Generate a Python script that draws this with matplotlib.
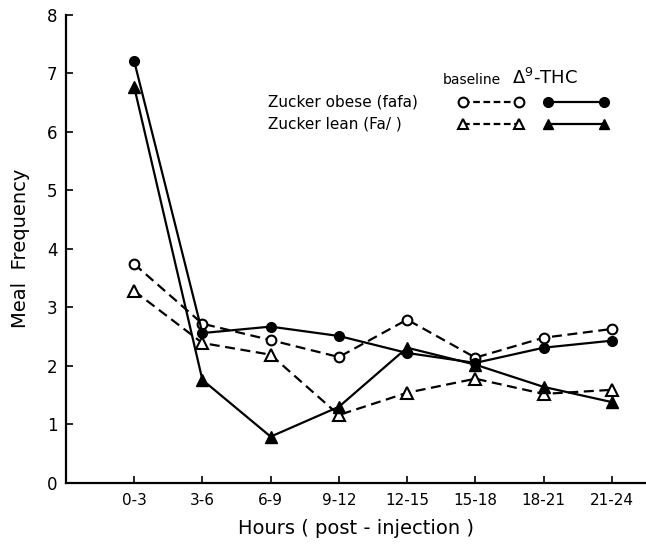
import matplotlib
matplotlib.use('Agg')
import matplotlib.pyplot as plt
import numpy as np

# time bins (hours post-injection)
bins = ['0-3', '3-6', '6-9', '9-12', '12-15', '15-18', '18-21', '21-24']

# meal frequency
obese_base = [3.74, 2.72, 2.44, 2.15, 2.79, 2.14, 2.48, 2.63]
obese_thc = [7.21, 2.56, 2.67, 2.51, 2.22, 2.05, 2.31, 2.43]
lean_base = [3.28, 2.39, 2.19, 1.16, 1.54, 1.78, 1.52, 1.59]
lean_thc = [6.77, 1.76, 0.79, 1.30, 2.31, 2.02, 1.64, 1.38]

plt.rcParams['font.family'] = ['DejaVu Sans']

fig = plt.figure(figsize=(6.46, 5.45), dpi=100)
ax = fig.add_axes([0.102, 0.114, 0.898, 0.859])

x = np.arange(len(bins))
dash = (0, (4.5, 2.5))
lw = 1.6

ax.plot(x, obese_base, color='black', lw=lw, linestyle=dash, marker='o',
        markersize=7, markerfacecolor='white', markeredgewidth=1.5)
ax.plot(x, lean_base, color='black', lw=lw, linestyle=dash, marker='^',
        markersize=8, markerfacecolor='white', markeredgewidth=1.5)
ax.plot(x, obese_thc, color='black', lw=lw, linestyle='-', marker='o',
        markersize=7, markerfacecolor='black')
ax.plot(x, lean_thc, color='black', lw=lw, linestyle='-', marker='^',
        markersize=8, markerfacecolor='black')

ax.set_xlim(-1, 7.5)
ax.set_ylim(0, 8)
ax.set_xticks(x)
ax.set_xticklabels(bins, fontsize=11)
ax.set_yticks(range(0, 9))
ax.set_yticklabels([str(v) for v in range(0, 9)], fontsize=12)
ax.tick_params(axis='both', direction='in', length=5, width=1.2, colors='black')
ax.tick_params(axis='x', pad=7)
ax.tick_params(axis='y', pad=6)
for s in ['top', 'right']:
    ax.spines[s].set_visible(False)
for s in ['left', 'bottom']:
    ax.spines[s].set_linewidth(1.6)

ax.set_xlabel('Hours ( post - injection )', fontsize=14, labelpad=8)
ax.set_ylabel('Meal  Frequency', fontsize=14, labelpad=12)

# hand-made legend with column headers
tr = ax.transAxes
def ax_xy(px, py):
    # pixel position in figure -> axes fraction
    return ((px - 66) / 580.0, (483 - py) / 468.0)

hx, hy = ax_xy(443, 80)
ax.text(hx, hy, 'baseline', transform=tr, fontsize=10, va='center')
tx, ty = ax_xy(512, 78)
ax.text(tx, ty, r'$\Delta^{9}$-THC', transform=tr, fontsize=13, va='center')

rows = [('Zucker obese (fafa)', 'o', 102), ('Zucker lean (Fa/ )', '^', 124)]
for label, mk, py in rows:
    lx, ly = ax_xy(268, py)
    ax.text(lx, ly, label, transform=tr, fontsize=11, va='center')
    a = ax_xy(463, py)
    b = ax_xy(519, py)
    ax.plot([a[0], b[0]], [a[1], b[1]], transform=tr, color='black', lw=lw,
            linestyle=(0, (3, 1.6)), marker=mk, markersize=7,
            markerfacecolor='white', markeredgewidth=1.5, clip_on=False)
    c = ax_xy(548, py)
    d = ax_xy(604, py)
    ax.plot([c[0], d[0]], [c[1], d[1]], transform=tr, color='black', lw=lw,
            linestyle='-', marker=mk, markersize=7, markerfacecolor='black',
            clip_on=False)

fig.savefig('out.png', dpi=100)
